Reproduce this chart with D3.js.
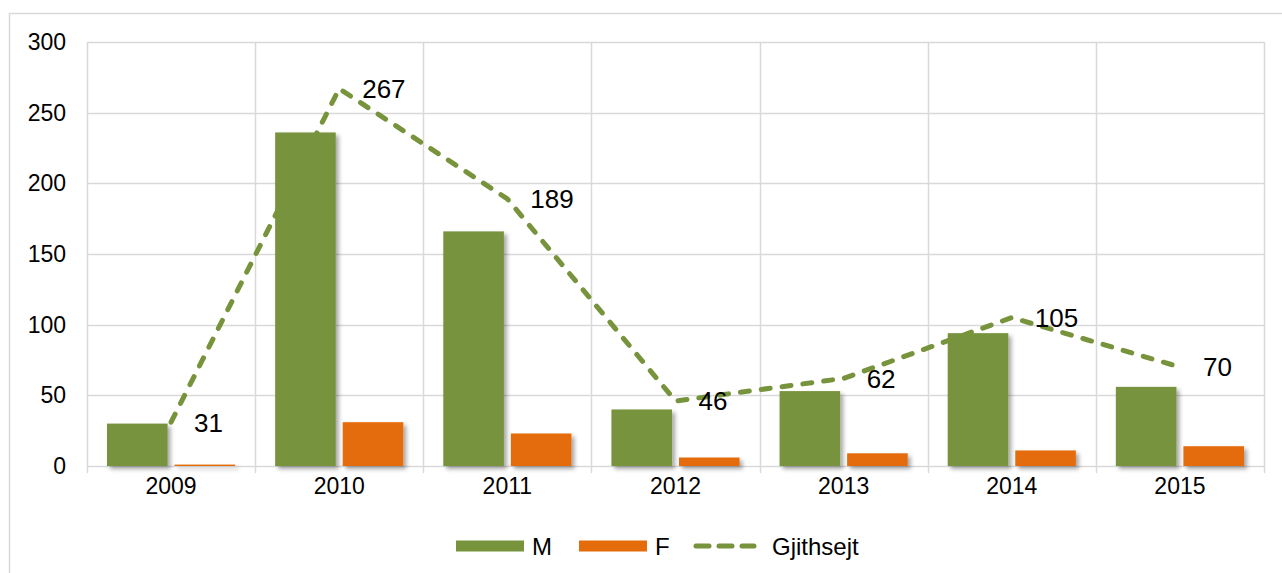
<!DOCTYPE html>
<html>
<head>
<meta charset="utf-8">
<script src="https://cdn.jsdelivr.net/npm/d3@7"></script>
<style>
  body { margin: 0; background: #fff; }
  svg { display: block; font-family: "Liberation Sans", Arial, sans-serif; }
</style>
</head>
<body>
<div id="chart"></div>
<script>
// data
const years = ["2009", "2010", "2011", "2012", "2013", "2014", "2015"];
const male = [30, 236, 166, 40, 53, 94, 56];
const female = [1, 31, 23, 6, 9, 11, 14];
const total = [31, 267, 189, 46, 62, 105, 70];
const yTicks = [0, 50, 100, 150, 200, 250, 300];

const frame_width = 1282;
const frame_height = 573;
const margins = {left: 87, right: 18, top: 42, bottom: 107};

const GREEN = "#77933C";
const ORANGE = "#E46C0A";
const GRID = "#D9D9D9";

const svg = d3.select("#chart")
  .append("svg")
    .attr("width", frame_width)
    .attr("height", frame_height);

// drop shadow for the bars
const defs = svg.append("defs");
defs.append("filter")
    .attr("id", "shadow")
    .attr("x", "-20%").attr("y", "-20%")
    .attr("width", "150%").attr("height", "150%")
  .append("feDropShadow")
    .attr("dx", 3).attr("dy", 3)
    .attr("stdDeviation", 2)
    .attr("flood-color", "#000")
    .attr("flood-opacity", 0.35);

// outer chart border (only top/left visible in the picture)
svg.append("rect")
  .attr("x", 9.5).attr("y", 13.5)
  .attr("width", frame_width + 20).attr("height", frame_height + 20)
  .attr("fill", "none")
  .attr("stroke", GRID)
  .attr("stroke-width", 1.5);

const X = d3.scaleBand()
  .domain(years)
  .range([margins.left, frame_width - margins.right]);

const Y = d3.scaleLinear()
  .domain([0, 300])
  .range([frame_height - margins.bottom, margins.top]);

// bars sit inside each category with 20px either side
const inner = d3.scaleBand()
  .domain(["M", "F"])
  .range([20, X.bandwidth() - 20])
  .paddingInner(0.103);

// horizontal gridlines
svg.append("g")
  .selectAll("line")
  .data(yTicks)
  .join("line")
    .attr("x1", margins.left).attr("x2", frame_width - margins.right)
    .attr("y1", d => Math.round(Y(d)) + 0.5).attr("y2", d => Math.round(Y(d)) + 0.5)
    .attr("stroke", GRID).attr("stroke-width", 1.5);

// vertical gridlines at category boundaries, extending below as ticks
const bounds = years.map(d => X(d)).concat([X.range()[1]]);
svg.append("g")
  .selectAll("line")
  .data(bounds)
  .join("line")
    .attr("x1", d => Math.round(d) + 0.5).attr("x2", d => Math.round(d) + 0.5)
    .attr("y1", Y(300)).attr("y2", Y(0) + 7)
    .attr("stroke", GRID).attr("stroke-width", 1.5);

// y axis labels
const yAxis = svg.append("g")
  .attr("transform", "translate(" + (margins.left - 21) + ",0)")
  .call(d3.axisLeft(Y).tickValues(yTicks).tickSize(0).tickPadding(0));
yAxis.select(".domain").remove();
yAxis.selectAll("text")
  .attr("font-size", "23px")
  .attr("font-family", "Liberation Sans, Arial, sans-serif")
  .attr("fill", "#000");

// x axis labels
const xAxis = svg.append("g")
  .attr("transform", "translate(0," + (Y(0) + 12) + ")")
  .call(d3.axisBottom(X).tickSize(0).tickPadding(0));
xAxis.select(".domain").remove();
xAxis.selectAll("text")
  .attr("font-size", "23px")
  .attr("dy", "0.71em")
  .attr("font-family", "Liberation Sans, Arial, sans-serif")
  .attr("fill", "#000");

// bars
const bars = svg.append("g").attr("filter", "url(#shadow)");
bars.selectAll("rect.m")
  .data(years)
  .join("rect")
    .attr("class", "m")
    .attr("x", (d) => X(d) + inner("M"))
    .attr("width", inner.bandwidth())
    .attr("y", (d, i) => Y(male[i]))
    .attr("height", (d, i) => Y(0) - Y(male[i]))
    .attr("fill", GREEN);

bars.selectAll("rect.f")
  .data(years)
  .join("rect")
    .attr("class", "f")
    .attr("x", (d) => X(d) + inner("F"))
    .attr("width", inner.bandwidth())
    .attr("y", (d, i) => Y(female[i]))
    .attr("height", (d, i) => Y(0) - Y(female[i]))
    .attr("fill", ORANGE);

// total line (dashed)
const line = d3.line()
  .x((d, i) => X(years[i]) + X.bandwidth() / 2)
  .y(d => Y(d));

svg.append("path")
  .datum(total)
  .attr("d", line)
  .attr("fill", "none")
  .attr("stroke", GREEN)
  .attr("stroke-width", 5)
  .attr("stroke-linecap", "round")
  .attr("stroke-linejoin", "round")
  .attr("stroke-dasharray", "9,12");

// total labels, to the right of each point
svg.append("g")
  .selectAll("text")
  .data(total)
  .join("text")
    .attr("x", (d, i) => X(years[i]) + X.bandwidth() / 2 + 23)
    .attr("y", d => Y(d))
    .attr("dy", "0.36em")
    .attr("font-size", "26px")
    .attr("fill", "#000")
    .text(d => d);

// legend
const legendY = 546;
const legend = svg.append("g");
legend.append("rect")
  .attr("x", 456).attr("y", legendY - 5.5).attr("width", 68).attr("height", 11)
  .attr("fill", GREEN);
legend.append("text")
  .attr("x", 532).attr("y", legendY).attr("dy", "0.36em")
  .attr("font-size", "24px").text("M");
legend.append("rect")
  .attr("x", 579).attr("y", legendY - 5.5).attr("width", 68).attr("height", 11)
  .attr("fill", ORANGE);
legend.append("text")
  .attr("x", 655).attr("y", legendY).attr("dy", "0.36em")
  .attr("font-size", "24px").text("F");
legend.append("line")
  .attr("x1", 696).attr("x2", 754)
  .attr("y1", legendY).attr("y2", legendY)
  .attr("stroke", GREEN).attr("stroke-width", 5)
  .attr("stroke-linecap", "round")
  .attr("stroke-dasharray", "13,10");
legend.append("text")
  .attr("x", 772).attr("y", legendY).attr("dy", "0.36em")
  .attr("font-size", "24px").text("Gjithsejt");
</script>
</body>
</html>
